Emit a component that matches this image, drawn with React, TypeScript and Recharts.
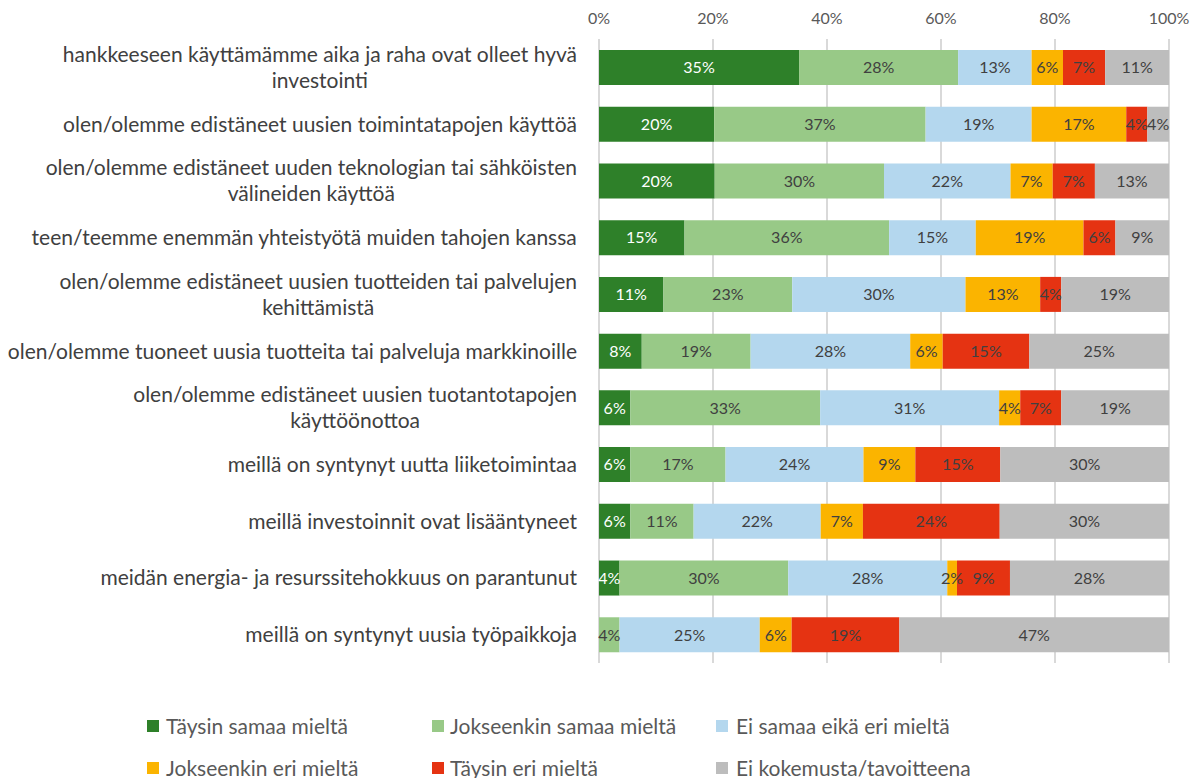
import React from 'react';
import { BarChart, Bar, XAxis, YAxis, CartesianGrid, Legend, LabelList } from 'recharts';

const categories: string[] = [
  'hankkeeseen käyttämämme aika ja raha ovat olleet hyvä\ninvestointi',
  'olen/olemme edistäneet uusien toimintatapojen käyttöä',
  'olen/olemme edistäneet uuden teknologian tai sähköisten\nvälineiden käyttöä',
  'teen/teemme enemmän yhteistyötä muiden tahojen kanssa',
  'olen/olemme edistäneet uusien tuotteiden tai palvelujen\nkehittämistä',
  'olen/olemme tuoneet uusia tuotteita tai palveluja markkinoille',
  'olen/olemme edistäneet uusien tuotantotapojen\nkäyttöönottoa',
  'meillä on syntynyt uutta liiketoimintaa',
  'meillä investoinnit ovat lisääntyneet',
  'meidän energia- ja resurssitehokkuus on parantunut',
  'meillä on syntynyt uusia työpaikkoja',
];

const seriesNames: string[] = [
  'Täysin samaa mieltä',
  'Jokseenkin samaa mieltä',
  'Ei samaa eikä eri mieltä',
  'Jokseenkin eri mieltä',
  'Täysin eri mieltä',
  'Ei kokemusta/tavoitteena',
];

const taysinSamaa = [35.1, 20.2, 20.3, 15.0, 11.3, 7.5, 5.5, 5.5, 5.5, 3.6, 0];
const jokseenkinSamaa = [27.9, 37.1, 29.7, 35.9, 22.6, 19.1, 33.3, 16.7, 11.1, 29.6, 3.6];
const eiSamaaEikaEri = [12.9, 18.6, 22.2, 15.2, 30.4, 28.0, 31.4, 24.2, 22.3, 27.9, 24.6];
const jokseenkinEri = [5.5, 16.6, 7.4, 18.9, 13.1, 5.7, 3.7, 9.1, 7.4, 1.7, 5.6];
const taysinEri = [7.4, 3.7, 7.4, 5.6, 3.7, 15.2, 7.2, 14.9, 24.0, 9.3, 18.9];
const eiKokemusta = [11.2, 3.8, 13.0, 9.4, 18.9, 24.5, 18.9, 29.6, 29.7, 27.9, 47.3];

const xTicks = [0, 20, 40, 60, 80, 100];

const seriesValues = [taysinSamaa, jokseenkinSamaa, eiSamaaEikaEri, jokseenkinEri, taysinEri, eiKokemusta];
const colors = ['#2E8029', '#98C987', '#B4D7EE', '#FBB400', '#E53312', '#BDBDBD'];
const labelColors = ['#FFFFFF', '#404040', '#404040', '#404040', '#404040', '#404040'];
const keys = ['s0', 's1', 's2', 's3', 's4', 's5'];

const data = categories.map((name, i) => {
  const row: Record<string, any> = { name };
  seriesValues.forEach((arr, s) => {
    row[keys[s]] = arr[i];
  });
  return row;
});

const FONT = 'Lato, "Open Sans", sans-serif';
const CAT_SIZE = 21;

let ctx: CanvasRenderingContext2D | null = null;
function measure(text: string, size: number): number {
  if (!ctx) {
    const c = document.createElement('canvas');
    ctx = c.getContext('2d');
  }
  if (!ctx) return text.length * size * 0.5;
  ctx.font = `${size}px Lato`;
  return ctx.measureText(text).width;
}

const CategoryTick = (props: any) => {
  const { x, y, payload } = props;
  const lines = String(payload.value).split('\n');
  const size = CAT_SIZE;
  const w = Math.max(...lines.map((l) => measure(l, size)));
  const cx = x - w / 2;
  const lh = 26;
  const y0 = y - ((lines.length - 1) * lh) / 2;
  return (
    <text x={cx} y={y0} textAnchor="middle" fill="#404040" fontSize={size} fontFamily={FONT}>
      {lines.map((l, i) => (
        <tspan key={i} x={cx} y={y0 + i * lh} dy="0.36em">
          {l}
        </tspan>
      ))}
    </text>
  );
};

const makeLabel = (color: string) => (props: any) => {
  const { x, y, width, height, value } = props;
  if (!value) return null;
  return (
    <text
      x={Number(x) + Number(width) / 2}
      y={Number(y) + Number(height) / 2}
      dy="0.36em"
      textAnchor="middle"
      fill={color}
      fontSize={16}
      fontFamily={FONT}
    >
      {Math.round(Number(value))}%
    </text>
  );
};

const legendSquareLeft = [147, 432, 716];
const legendTextLeft = [166, 450, 736];
const legendRowCenter = [63, 104.5];

const LegendGrid = () => (
  <div style={{ position: 'relative', width: 1194, height: 115, fontFamily: FONT }}>
    {seriesNames.map((n, i) => {
      const col = i % 3;
      const row = Math.floor(i / 3);
      const cy = legendRowCenter[row];
      return (
        <React.Fragment key={n}>
          <div
            style={{
              position: 'absolute',
              left: legendSquareLeft[col],
              top: cy - 6,
              width: 12,
              height: 12,
              background: colors[i],
            }}
          />
          <div
            style={{
              position: 'absolute',
              left: legendTextLeft[col],
              top: cy - 14,
              height: 28,
              lineHeight: '28px',
              fontSize: 21,
              color: '#595959',
              whiteSpace: 'nowrap',
            }}
          >
            {n}
          </div>
        </React.Fragment>
      );
    })}
  </div>
);

export default function App() {
  return (
    <div style={{ position: 'absolute', left: 0, top: 0, width: 1194, height: 778, background: '#fff' }}>
      <BarChart
        width={1194}
        height={778}
        data={data}
        layout="vertical"
        margin={{ top: 0, right: 25, bottom: 0, left: 0 }}
        barCategoryGap="38%"
      >
        <CartesianGrid horizontal={false} vertical={true} stroke="#D9D9D9" strokeWidth={2} />
        <XAxis
          type="number"
          orientation="top"
          domain={[0, 100]}
          ticks={xTicks}
          tickFormatter={(v: number) => `${v}%`}
          axisLine={false}
          tickLine={false}
          height={39}
          interval={0}
          tick={{ fontSize: 16, fill: '#595959', fontFamily: FONT, dy: -7 }}
        />
        <YAxis
          type="category"
          dataKey="name"
          width={599}
          axisLine={false}
          tickLine={false}
          tickMargin={16}
          interval={0}
          tick={<CategoryTick />}
        />
        <Legend
          verticalAlign="bottom"
          content={() => <LegendGrid />}
          wrapperStyle={{ left: 0, width: 1194, height: 115 }}
        />
        {keys.map((k, s) => (
          <Bar
            key={k}
            dataKey={k}
            stackId="a"
            fill={colors[s]}
            name={seriesNames[s]}
            barSize={35}
            isAnimationActive={false}
          >
            <LabelList dataKey={k} content={makeLabel(labelColors[s])} />
          </Bar>
        ))}
      </BarChart>
    </div>
  );
}
